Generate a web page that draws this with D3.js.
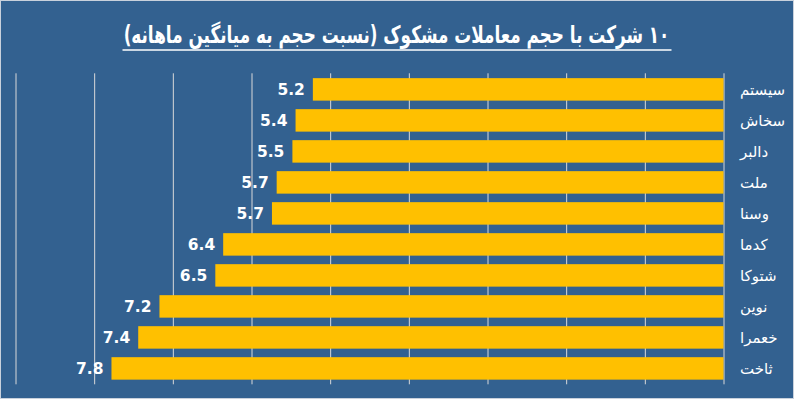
<!DOCTYPE html>
<html>
<head>
<meta charset="utf-8">
<script src="https://cdn.jsdelivr.net/npm/d3@7"></script>
<style>
html,body{margin:0;padding:0;background:#336190;}
svg{display:block;}
</style>
</head>
<body>
<svg id="chart" width="794" height="399"></svg>
<script>
const titleText = "۱۰ شرکت با حجم معاملات مشکوک (نسبت حجم به میانگین ماهانه)";
const categories = ["سیستم","سخاش","دالبر","ملت","وسنا","کدما","شتوکا","نوین","خعمرا","ثاخت"];
const values = [5.22, 5.44, 5.48, 5.68, 5.74, 6.36, 6.46, 7.17, 7.44, 7.78];
const gridTicks = [0,1,2,3,4,5,6,7,8,9];

const svg = d3.select("#chart");
const W = 794, H = 399;

svg.append("rect").attr("x",0.5).attr("y",0.5).attr("width",W-1).attr("height",H-1)
  .attr("fill","#336190").attr("stroke","#c9d1dc").attr("stroke-width",1);

const x = d3.scaleLinear().domain([0,9]).range([723.5,15.5]);
const y = d3.scaleBand().domain(categories).range([73.5,384.3]).paddingInner(0.275).paddingOuter(0.15);

// gridlines
const grid = svg.append("g").attr("transform","translate(0,384.3)")
  .call(d3.axisBottom(x).tickValues(gridTicks).tickSize(-(384.3-73.3)).tickFormat(""));
grid.select(".domain").remove();
grid.selectAll(".tick line").attr("stroke","#d9d9d9").attr("stroke-width",1);

// bars
svg.append("g").selectAll("rect").data(values).join("rect")
  .attr("x", d => x(d))
  .attr("y", (d,i) => y(categories[i]))
  .attr("width", d => x(0) - x(d))
  .attr("height", y.bandwidth())
  .attr("fill","#FFC000");

// value labels
const fmt = d3.format(".1f");
svg.append("g").selectAll("text").data(values).join("text")
  .attr("x", d => x(d) - 8)
  .attr("y", (d,i) => y(categories[i]) + y.bandwidth()/2 + 5.6)
  .attr("text-anchor","end")
  .attr("fill","#ffffff")
  .attr("font-family","'DejaVu Sans', sans-serif")
  .attr("font-weight","bold")
  .attr("font-size","15.5px")
  .text(d => fmt(d));

// category labels
svg.append("g").selectAll("text").data(categories).join("text")
  .attr("x", 740)
  .attr("y", d => y(d) + y.bandwidth()/2 + 5.5)
  .attr("text-anchor","start")
  .attr("fill","#ffffff")
  .attr("font-family","'DejaVu Sans', sans-serif")
  .attr("font-size","15px")
  .text(d => d);

// title (condensed horizontally to the reference width)
const titleG = svg.append("g");
const title = titleG.append("text")
  .attr("x", 0).attr("y", 0)
  .attr("text-anchor","middle")
  .attr("direction","rtl")
  .style("direction","rtl")
  .style("unicode-bidi","embed")
  .attr("fill","#ffffff")
  .attr("font-family","'DejaVu Sans', sans-serif")
  .attr("font-weight","bold")
  .attr("font-size","24px")
  .text(titleText);
const natW = title.node().getComputedTextLength() || 546;
titleG.attr("transform", `translate(396.5,43) scale(${546/natW},1)`);
svg.append("line").attr("x1",122.5).attr("x2",671.5).attr("y1",50).attr("y2",50)
  .attr("stroke","#ffffff").attr("stroke-width",1.5);
</script>
</body>
</html>
